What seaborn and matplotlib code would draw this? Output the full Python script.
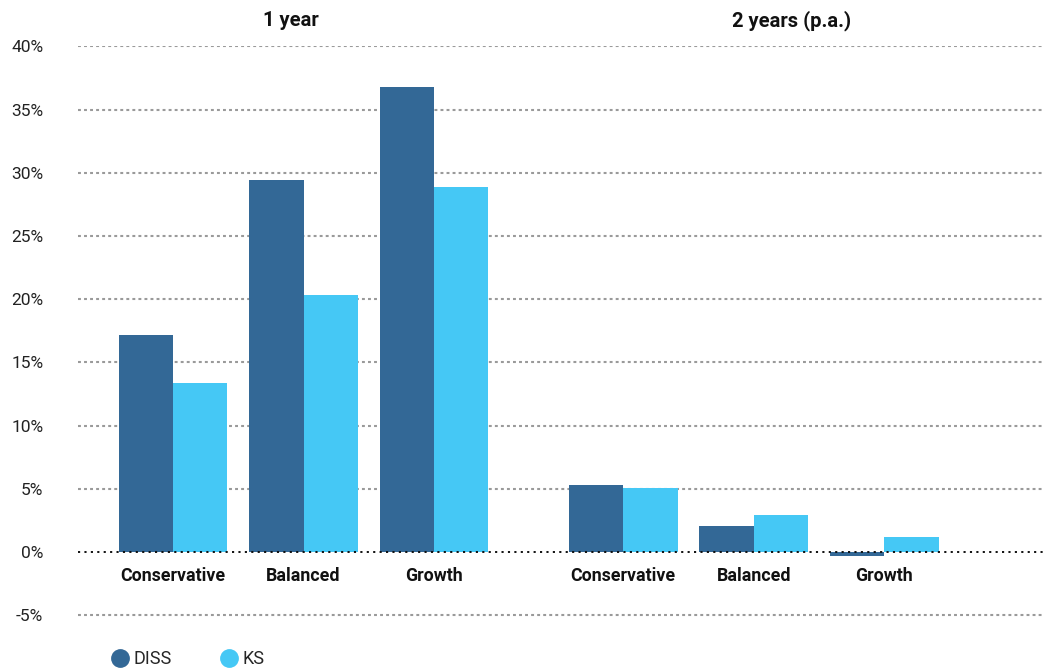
import matplotlib
matplotlib.use("Agg")
import matplotlib.pyplot as plt
from matplotlib.lines import Line2D
import seaborn as sns
import pandas as pd
import numpy as np

# ---- data ----
periods = ["1 year", "2 years (p.a.)"]
categories = ["Conservative", "Balanced", "Growth"]
series = ["DISS", "KS"]
diss_1y = [17.2, 29.4, 36.8]
ks_1y = [13.4, 20.3, 28.9]
diss_2y = [5.3, 2.1, -0.3]
ks_2y = [5.1, 2.9, 1.2]
y_ticks = [-5, 0, 5, 10, 15, 20, 25, 30, 35, 40]

colors = {"DISS": "#336896", "KS": "#45C8F5"}

sns.set_theme(style="white")
plt.rcParams["font.family"] = ["Roboto", "DejaVu Sans"]

# build long table; position layout computed here
group_gap = 0.45
title_offsets = [0.905, 1.293]
rows = []
values = {("1 year", "DISS"): diss_1y, ("1 year", "KS"): ks_1y,
          ("2 years (p.a.)", "DISS"): diss_2y, ("2 years (p.a.)", "KS"): ks_2y}
for gi, p in enumerate(periods):
    for ci, c in enumerate(categories):
        pos = gi * (len(categories) + group_gap) + ci
        for s in series:
            rows.append({"pos": pos, "period": p, "category": c, "series": s,
                         "value": values[(p, s)][ci]})
df = pd.DataFrame(rows)

fig = plt.figure(figsize=(10.43, 6.71), dpi=100)
ax = fig.add_axes([0.0748, 0.064, 0.9252, 0.867])

sns.barplot(data=df, x="pos", y="value", hue="series", hue_order=series,
            palette=colors, native_scale=True, width=0.835, dodge=True,
            saturation=1, ax=ax, legend=False, linewidth=0, errorbar=None, zorder=2)

ax.set_xlim(-0.728, 6.667)
ax.set_ylim(-6, 40)
ax.set_yticks(y_ticks)
ax.set_yticklabels([f"{t}%" for t in y_ticks], fontsize=12.5, color="#222222")
ax.tick_params(axis="y", length=0, pad=25)
ax.set_xticks([])
ax.set_xlabel("")
ax.set_ylabel("")
for sp in ax.spines.values():
    sp.set_visible(False)

# gridlines
for t in y_ticks:
    if t == 0:
        continue
    ax.axhline(t, color="#9a9a9a", linewidth=1.5, linestyle=(0, (1.4, 1.5)), zorder=1)
ax.axhline(0, color="#111111", linewidth=1.4, linestyle=(0, (1.1, 2.2)), zorder=3)

# category labels and period titles
for gi, p in enumerate(periods):
    base = gi * (len(categories) + group_gap)
    for ci, c in enumerate(categories):
        ax.text(base + ci, -1.9, c, ha="center", va="center", fontsize=12.8,
                fontweight="bold", color="#111111")
    ax.text(base + title_offsets[gi], 42.05, p, ha="center", va="center",
            fontsize=14.5, fontweight="bold", color="#111111", clip_on=False)

# legend
handles = [Line2D([0], [0], marker="o", linestyle="", markersize=12.5,
                  markerfacecolor=colors[s], markeredgecolor=colors[s], label=s)
           for s in series]
fig.legend(handles=handles, loc="center left", bbox_to_anchor=(0.089, 0.0175),
           ncol=2, frameon=False, fontsize=13, handletextpad=0.15,
           columnspacing=2.55, handlelength=1.2)

fig.savefig("out.png", dpi=100)
